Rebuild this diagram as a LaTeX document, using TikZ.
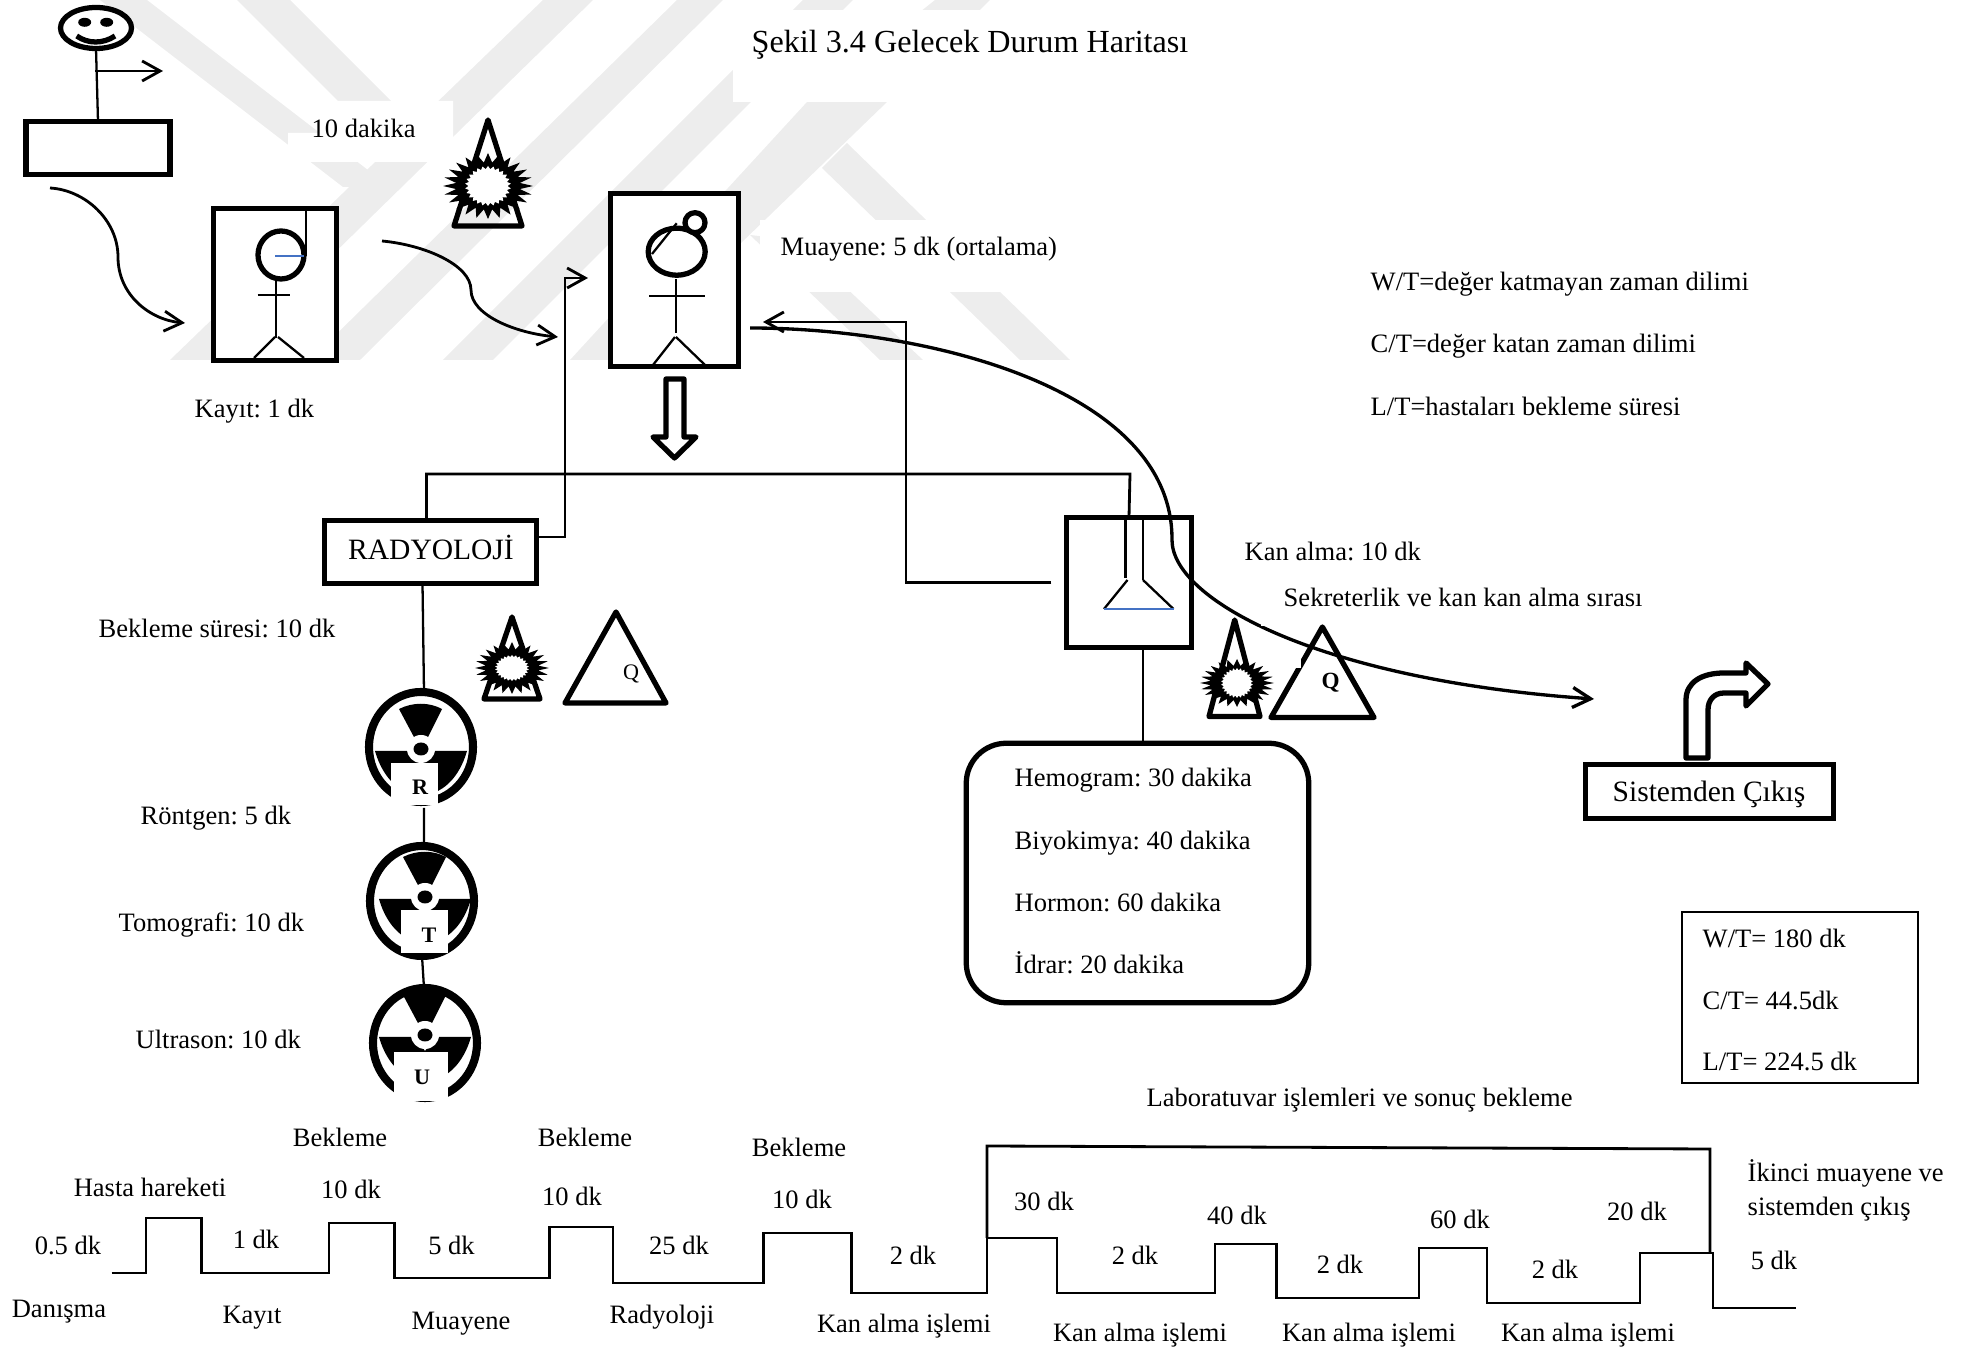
\documentclass[tikz,border=0pt]{standalone}
\usepackage{fontspec}
\setmainfont{Liberation Serif}
\usetikzlibrary{arrows.meta, shapes.geometric}
\definecolor{wmgray}{HTML}{EDEDED}
\definecolor{figblue}{HTML}{4472C4}
\tikzset{
    vsmbox/.style={draw, line width=1.5pt, fill=white, rectangle, inner sep=0pt, outer sep=0pt},
    vsmlbl/.style={inner sep=0pt, font=\fontsize{7.55}{9}\selectfont\frenchspacing},
    vsmleft/.style={vsmlbl, anchor=west},
    vsmbig/.style={inner sep=0pt, anchor=base, font=\fontsize{8.4}{10}\selectfont},
    thickln/.style={line width=1.5pt, line join=round},
    thinln/.style={line width=0.65pt},
    curveln/.style={line width=0.8pt},
    openarrow/.style={-{Straight Barb[length=1.8mm,width=2mm]}},
    burstouter/.style={star, star points=24, star point ratio=1.4, fill=black, inner sep=0pt, outer sep=0pt, minimum size=2cm},
    burstinner/.style={star, star points=26, star point ratio=1.18, fill=white, inner sep=0pt, outer sep=0pt, minimum size=2cm},
    radring/.style={draw, ellipse, line width=2.3pt, fill=white, inner sep=0pt, outer sep=0pt, minimum width=1.04cm, minimum height=1.10cm},
    radbox/.style={fill=white, inner sep=0pt},
    radlett/.style={inner sep=0pt, font=\fontsize{6.3}{8}\selectfont\bfseries},
    radblades/.pic={
        \fill (-.22,-.40) .. controls (-.08,-.47) and (.08,-.47) .. (.21,-.40) -- (.06,-.10) -- (-.06,-.10) -- cycle;
        \foreach \s in {-1,1} {
            \fill (\s*.46,.02) -- (\s*.10,.02) -- (0,.16) -- (0,.46) .. controls (\s*.2,.46) and (\s*.38,.3) .. (\s*.46,.02) -- cycle;
        }
        \fill[white] (0,0) circle (.14);
        \fill (0,0) ellipse [x radius=.075, y radius=.065];
    },
}
\begin{document}
\begin{tikzpicture}[y=-1cm]
    \useasboundingbox (0,0) rectangle (19.68,13.49);
    \fill[wmgray] (1.00,0) -- (1.47,0) -- (3.90,1.87) -- (3.43,1.87) -- cycle;
    \fill[wmgray] (2.37,0) -- (2.90,0) -- (4.40,1.50) -- (3.95,1.58) -- cycle;
    \fill[wmgray] (1.70,3.60) -- (2.25,3.60) -- (5.93,0) -- (5.43,0) -- cycle;
    \fill[wmgray] (3.10,3.60) -- (3.60,3.60) -- (7.23,0) -- (6.77,0) -- cycle;
    \fill[wmgray] (4.43,3.60) -- (4.93,3.60) -- (8.53,0) -- (8.03,0) -- cycle;
    \fill[wmgray] (5.70,3.60) -- (6.20,3.60) -- (8.87,1.02) -- (9.90,0) -- (9.35,0) -- (8.07,1.02) -- cycle;
    \fill[wmgray] (8.22,1.68) -- (8.47,1.43) -- (10.70,3.60) -- (10.20,3.60) -- cycle;
    \fill[wmgray] (7.50,2.35) -- (7.95,2.40) -- (9.23,3.60) -- (8.80,3.60) -- cycle;
    \fill[white] (3.38,1.01) -- (4.53,1.01) -- (4.53,1.62) -- (2.88,1.62) -- (2.88,1.33) -- (3.38,1.33) -- cycle;
    \fill[white] (7.33,0.10) rectangle (12.50,1.02);
    \fill[white] (7.60,2.20) rectangle (10.30,2.92);

    \node[vsmlbl, font=\fontsize{9.15}{11}\selectfont\frenchspacing] (title) at (9.70,0.445) {Şekil 3.4 Gelecek Durum Haritası};

    \node[vsmbox, minimum width=1.44cm, minimum height=0.535cm] (danisma) at (0.98,1.48) {};
    \node[draw, ellipse, line width=1.5pt, fill=white, inner sep=0pt, outer sep=0pt, minimum width=0.71cm, minimum height=0.41cm] (face) at (0.96,0.28) {};
    \fill (0.847,0.223) ellipse [x radius=.065, y radius=.045];
    \fill (1.067,0.223) ellipse [x radius=.065, y radius=.045];
    \draw[line width=1.5pt] (0.767,0.36) .. controls (0.88,0.44) and (1.03,0.44) .. (1.15,0.36);
    \draw[thinln] (face.south) -- (danisma.north);
    \coordinate (facestem) at (0.95,0.71);
    \coordinate (faceout) at (1.63,0.71);
    \draw[curveln, openarrow] (facestem) -- (faceout);

    \node[vsmbox, minimum width=1.235cm, minimum height=1.525cm] (kayit) at (2.75,2.845) {};
    \draw[thickln] (2.81,2.55) ellipse [x radius=.23, y radius=.24];
    \draw[thinln] (3.057,2.10) -- (3.057,2.56);
    \draw[thinln, figblue] (2.75,2.56) -- (3.04,2.56);
    \draw[thinln] (2.76,2.80) -- (2.76,3.38);
    \draw[thinln] (2.577,2.95) -- (2.90,2.95);
    \draw[thinln] (2.75,3.37) -- (2.54,3.58);
    \draw[thinln] (2.78,3.37) -- (3.04,3.58);

    \node[vsmbox, minimum width=1.285cm, minimum height=1.735cm] (muayene) at (6.745,2.80) {};
    \draw[thickln] (6.767,2.517) ellipse [x radius=.285, y radius=.235];
    \draw[thickln, fill=white] (6.95,2.227) circle (.10);
    \draw[thinln] (6.767,2.233) -- (6.52,2.54);
    \draw[thinln] (6.76,2.79) -- (6.76,3.33);
    \draw[thinln] (6.49,2.96) -- (7.05,2.96);
    \draw[thinln] (6.75,3.37) -- (6.53,3.65);
    \draw[thinln] (6.76,3.37) -- (7.05,3.65);
    \draw[thickln] (6.66,3.79) -- (6.84,3.79) -- (6.84,4.37) -- (6.96,4.37) -- (6.745,4.58) -- (6.53,4.37) -- (6.66,4.37) -- cycle;

    \draw[thickln] (4.88,1.20) -- (5.22,2.26) -- (4.54,2.26) -- cycle;
    \node[burstouter, xscale=.45, yscale=.33] (burstA) at (4.88,1.86) {};
    \node[burstinner, xscale=.23, yscale=.20] (burstAi) at (4.88,1.86) {};

    \node[vsmbox, minimum width=2.115cm, minimum height=0.625cm] (radyoloji) at (4.305,5.52) {};
    \node[vsmbig] (lradyoloji) at (4.31,5.60) {RADYOLOJİ};
    \node[vsmbox, minimum width=1.255cm, minimum height=1.305cm] (kanalma) at (11.29,5.825) {};
    \draw[thinln] (11.255,5.16) -- (11.255,5.78);
    \draw[thinln] (11.43,5.16) -- (11.43,5.80);
    \draw[thinln] (11.275,5.80) -- (11.04,6.09);
    \draw[thinln] (11.43,5.80) -- (11.735,6.09);
    \draw[thinln, figblue] (11.04,6.09) -- (11.735,6.09);

    \draw[thickln] (5.12,6.17) -- (5.40,6.99) -- (4.84,6.99) -- cycle;
    \node[burstouter, xscale=.37, yscale=.26] (burstB) at (5.12,6.68) {};
    \node[burstinner, xscale=.17, yscale=.13] (burstBi) at (5.12,6.68) {};
    \draw[thickln] (6.16,6.12) -- (6.66,7.03) -- (5.65,7.03) -- cycle;
    \node[vsmlbl, font=\fontsize{6.3}{8}\selectfont] (qrad) at (6.31,6.74) {Q};

    \draw[thickln] (12.347,6.20) -- (12.60,7.165) -- (12.09,7.165) -- cycle;
    \node[burstouter, xscale=.37, yscale=.24] (burstC) at (12.37,6.83) {};
    \node[burstinner, xscale=.16, yscale=.15] (burstCi) at (12.37,6.83) {};
    \draw[thickln] (13.224,6.27) -- (13.74,7.175) -- (12.71,7.175) -- cycle;
    \node[radlett, font=\fontsize{6.6}{8}\selectfont\bfseries] (qkan) at (13.306,6.83) {Q};

    \node[radring] (rontgen) at (4.21,7.47) {};
    \pic at (4.21,7.49) {radblades};
    \node[radbox, minimum width=0.47cm, minimum height=0.42cm] (rbox) at (4.145,7.84) {};
    \node[radlett] (rlett) at (4.20,7.87) {R};
    \node[radring] (tomografi) at (4.22,9.01) {};
    \pic at (4.25,8.97) {radblades};
    \node[radbox, minimum width=0.47cm, minimum height=0.43cm] (tbox) at (4.245,9.315) {};
    \node[radlett] (tlett) at (4.29,9.35) {T};
    \node[radring] (ultrason) at (4.25,10.43) {};
    \pic at (4.25,10.35) {radblades};
    \node[radbox, minimum width=0.54cm, minimum height=0.49cm] (ubox) at (4.21,10.765) {};
    \node[radlett] (ulett) at (4.22,10.77) {U};

    \draw[thinln] ([xshift=-.08cm]radyoloji.south) -- ([xshift=.03cm]rontgen.north);
    \draw[thinln] ([xshift=.03cm, yshift=-.06cm]rontgen.south) -- ([xshift=.02cm]tomografi.north);
    \draw[thinln] (tomografi.south) -- ([xshift=-.01cm]ultrason.north);

    \node[vsmbox, rounded corners=.4cm, minimum width=3.425cm, minimum height=2.595cm] (tahlil) at (11.375,8.73) {};
    \draw[thinln] (11.43,6.49) -- (11.43,7.42);
    \node[vsmbox, minimum width=2.485cm, minimum height=0.545cm] (cikis) at (17.095,7.915) {};
    \node[vsmbig] (lcikis) at (17.09,8.02) {Sistemden Çıkış};
    \draw[thickln, fill=white] (16.86,7.58) -- (16.86,7.00) .. controls (16.86,6.82) and (17.02,6.73) .. (17.24,6.73) -- (17.46,6.73) -- (17.46,6.63) -- (17.68,6.84) -- (17.46,7.06) -- (17.46,6.93) -- (17.24,6.93) .. controls (17.14,6.93) and (17.08,7.00) .. (17.08,7.10) -- (17.08,7.58) -- cycle;
    \node[draw, thinln, inner sep=0pt, minimum width=2.36cm, minimum height=1.71cm] (ozet) at (18.00,9.975) {};

    \coordinate (ckayit) at (0.50,1.88);
    \coordinate (ekayit) at (1.85,3.23);
    \draw[curveln, openarrow] (ckayit) .. controls (0.85,1.90) and (1.18,2.20) .. (1.18,2.57) .. controls (1.18,2.95) and (1.50,3.20) .. (ekayit);
    \coordinate (cmua) at (3.82,2.41);
    \coordinate (emua) at (5.58,3.37);
    \draw[curveln, openarrow] (cmua) .. controls (4.25,2.45) and (4.71,2.65) .. (4.71,2.90) .. controls (4.71,3.15) and (5.15,3.33) .. (emua);
    \coordinate (radturn) at (5.65,2.78);
    \coordinate (radin) at (5.88,2.78);
    \draw[curveln, openarrow] ([yshift=.15cm]radyoloji.east) -| (radturn) -- (radin);
    \coordinate (toplink) at (11.30,4.74);
    \draw[curveln] ([xshift=-.04cm]radyoloji.north) |- (toplink) -- (kanalma.north);
    \coordinate (kanturn) at (9.06,3.22);
    \coordinate (kanin) at (7.63,3.22);
    \draw[curveln, openarrow] ([xshift=-.15cm]kanalma.west) -| (kanturn) -- (kanin);
    \coordinate (uzunbas) at (7.50,3.28);
    \coordinate (uzunson) at (15.94,6.99);
    \draw[line width=0.95pt, openarrow] (uzunbas) .. controls (9.30,3.28) and (11.73,3.90) .. (11.72,5.40) .. controls (11.72,6.00) and (13.20,6.80) .. (uzunson);
    \fill[white] (12.61,6.19) rectangle (12.68,6.26);
    \fill[white] (12.95,6.55) rectangle (13.01,6.68);

    \draw[curveln] (1.116,12.73) -- (1.46,12.73) -- (1.46,12.18) -- (2.015,12.18) -- (2.015,12.73) -- (3.29,12.73) -- (3.29,12.23) -- (3.948,12.23) -- (3.948,12.78) -- (5.497,12.78) -- (5.497,12.27) -- (6.13,12.27) -- (6.13,12.83) -- (7.634,12.83) -- (7.634,12.33) -- (8.514,12.33) -- (8.514,12.93) -- (9.87,12.93) -- (9.87,12.38) -- (10.57,12.38) -- (10.57,12.93) -- (12.15,12.93) -- (12.15,12.44) -- (12.766,12.44) -- (12.766,12.98) -- (14.19,12.98) -- (14.19,12.48) -- (14.87,12.48) -- (14.87,13.03) -- (16.40,13.03) -- (16.40,12.53) -- (17.13,12.53) -- (17.13,13.08) -- (17.96,13.08);
    \draw[curveln] (9.87,12.38) -- (9.87,11.46) -- (17.10,11.49) -- (17.10,12.53);

    \node[vsmleft] (ondk) at (3.11,1.28) {10 dakika};
    \node[vsmleft] (lmuayene) at (7.80,2.495) {Muayene: 5 dk (ortalama)};
    \node[vsmleft] (lkayit) at (1.94,4.115) {Kayıt: 1 dk};
    \node[vsmleft] (tanimw) at (13.70,2.845) {W/T=değer katmayan zaman dilimi};
    \node[vsmleft] (tanimc) at (13.70,3.465) {C/T=değer katan zaman dilimi};
    \node[vsmleft] (taniml) at (13.70,4.065) {L/T=hastaları bekleme süresi};
    \node[vsmleft] (lkan) at (12.44,5.515) {Kan alma: 10 dk};
    \node[vsmleft] (lsekreter) at (12.83,5.975) {Sekreterlik ve kan kan alma sırası};
    \node[vsmleft] (lbekleme) at (0.98,6.28) {Bekleme süresi: 10 dk};
    \node[vsmleft] (lrontgen) at (1.40,8.185) {Röntgen: 5 dk};
    \node[vsmleft] (ltomo) at (1.18,9.25) {Tomografi: 10 dk};
    \node[vsmleft] (lultra) at (1.35,10.39) {Ultrason: 10 dk};
    \node[vsmleft] (lhemo) at (10.14,7.805) {Hemogram: 30 dakika};
    \node[vsmleft] (lbiyo) at (10.14,8.435) {Biyokimya: 40 dakika};
    \node[vsmleft] (lhormon) at (10.14,9.025) {Hormon: 60 dakika};
    \node[vsmleft] (lidrar) at (10.14,9.63) {İdrar: 20 dakika};
    \node[vsmleft] (ozetw) at (17.02,9.39) {W/T= 180 dk};
    \node[vsmleft] (ozetc) at (17.02,10.00) {C/T= 44.5dk};
    \node[vsmleft] (ozetl) at (17.02,10.615) {L/T= 224.5 dk};
    \node[vsmleft] (llab) at (11.46,11.005) {Laboratuvar işlemleri ve sonuç bekleme};
    \node[vsmleft] (likinci) at (17.47,11.735) {İkinci muayene ve};
    \node[vsmleft] (lsistem) at (17.47,12.095) {sistemden çıkış};

    \node[vsmlbl] (hasta) at (1.50,11.87) {Hasta hareketi};
    \node[vsmlbl] (beka) at (3.40,11.37) {Bekleme};
    \node[vsmlbl] (bekb) at (5.85,11.37) {Bekleme};
    \node[vsmlbl] (bekc) at (7.99,11.47) {Bekleme};
    \node[vsmlbl] (ona) at (3.51,11.89) {10 dk};
    \node[vsmlbl] (onb) at (5.72,11.96) {10 dk};
    \node[vsmlbl] (onc) at (8.02,11.99) {10 dk};
    \node[vsmlbl] (ts1) at (0.68,12.45) {0.5 dk};
    \node[vsmlbl] (ts2) at (2.56,12.39) {1 dk};
    \node[vsmlbl] (ts3) at (4.515,12.45) {5 dk};
    \node[vsmlbl] (ts4) at (6.79,12.45) {25 dk};
    \node[vsmlbl] (ts5) at (9.13,12.55) {2 dk};
    \node[vsmlbl] (ts6) at (10.44,12.01) {30 dk};
    \node[vsmlbl] (ts7) at (11.35,12.55) {2 dk};
    \node[vsmlbl] (ts8) at (12.37,12.15) {40 dk};
    \node[vsmlbl] (ts9) at (13.40,12.64) {2 dk};
    \node[vsmlbl] (ts10) at (14.60,12.19) {60 dk};
    \node[vsmlbl] (ts11) at (15.55,12.695) {2 dk};
    \node[vsmlbl] (ts12) at (16.37,12.11) {20 dk};
    \node[vsmlbl] (ts13) at (17.74,12.60) {5 dk};
    \node[vsmlbl] (adan) at (0.59,13.12) {Danışma};
    \node[vsmlbl] (akay) at (2.52,13.175) {Kayıt};
    \node[vsmlbl] (amua) at (4.61,13.235) {Muayene};
    \node[vsmlbl] (arad) at (6.62,13.17) {Radyoloji};
    \node[vsmlbl] (akana) at (9.04,13.26) {Kan alma işlemi};
    \node[vsmlbl] (akanb) at (11.40,13.35) {Kan alma işlemi};
    \node[vsmlbl] (akanc) at (13.69,13.35) {Kan alma işlemi};
    \node[vsmlbl] (akand) at (15.88,13.35) {Kan alma işlemi};
\end{tikzpicture}
\end{document}
